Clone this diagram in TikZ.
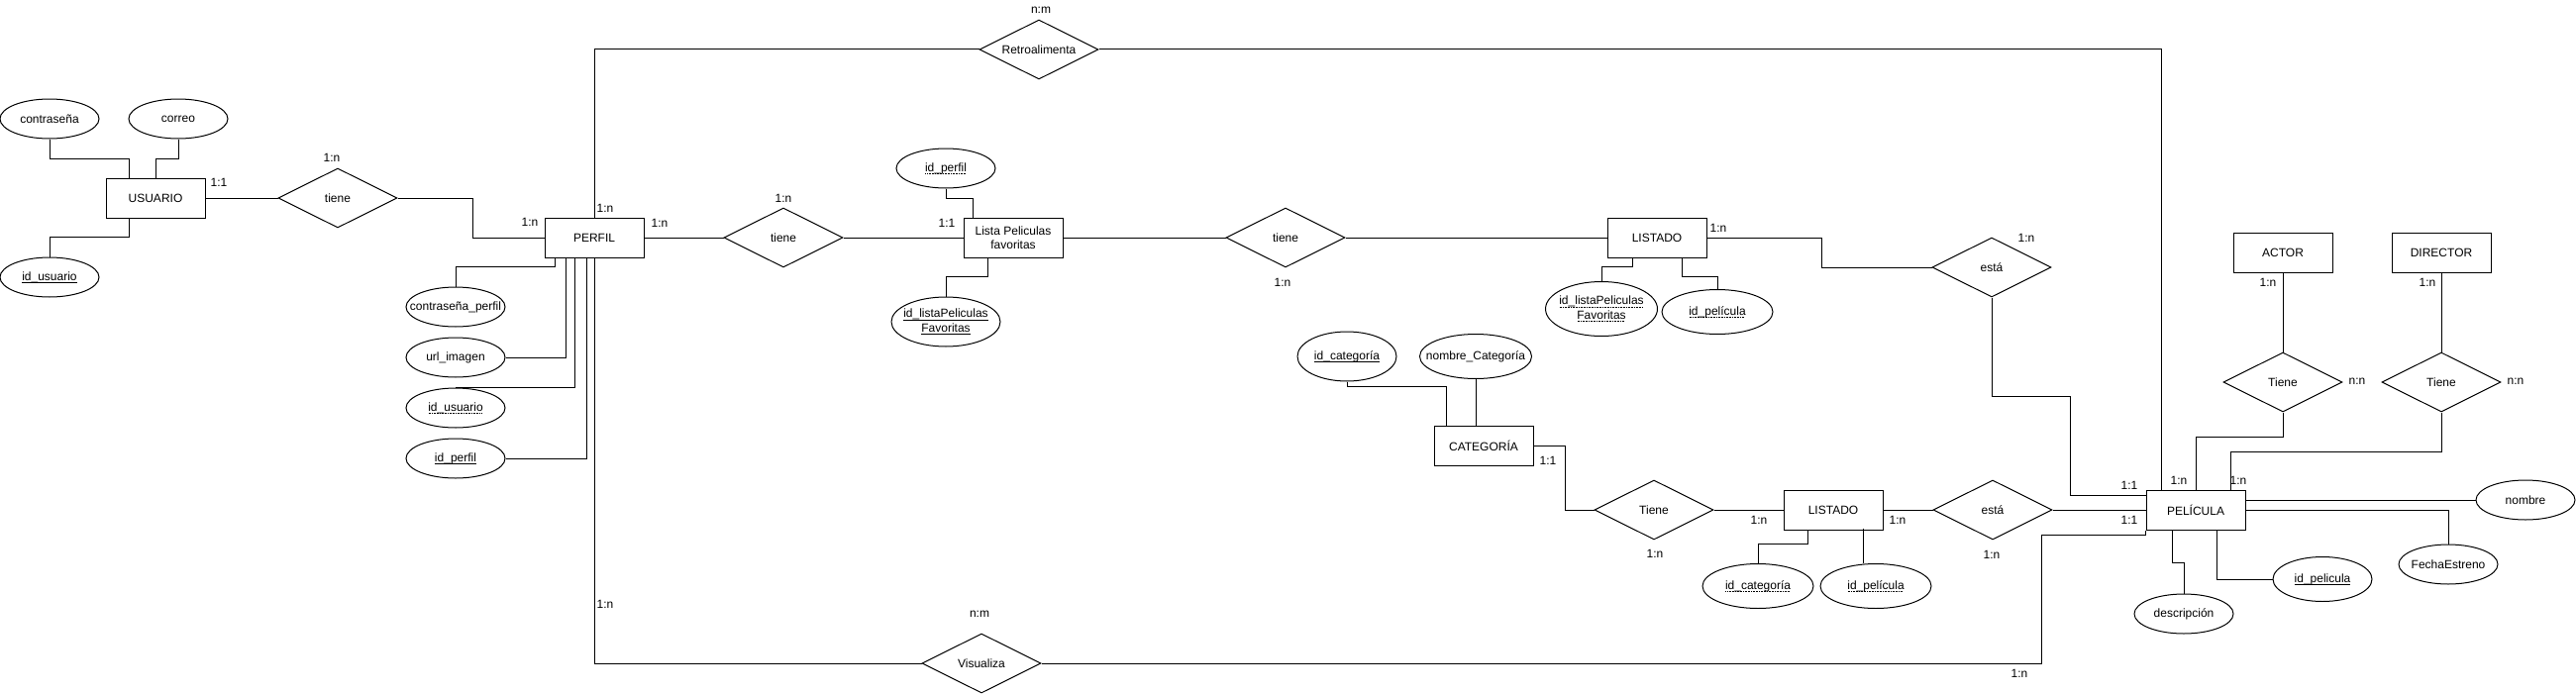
\documentclass[tikz,border=0pt]{standalone}
\usepackage{fontspec}
\setmainfont{Liberation Sans}
\usetikzlibrary{positioning, shapes.geometric}
\newsavebox\keybox
\newcommand{\pkey}[1]{\sbox\keybox{#1}\makebox[0pt][l]{\raisebox{-2.5pt}{\rule{\wd\keybox}{0.7pt}}}\usebox\keybox}
\newcommand{\fkey}[1]{\sbox\keybox{#1}\makebox[0pt][l]{\raisebox{-2.5pt}{\makebox[\wd\keybox][l]{\leaders\hbox to 1.6pt{\hss\rule{0.8pt}{0.7pt}\hss}\hfill}}}\usebox\keybox}

\begin{document}
\begin{tikzpicture}[x=1pt, y=-1pt, line width=1pt, node distance=10pt,
  every node/.style={font=\fontsize{12}{14.4}\selectfont, align=center},
  entidad/.style={draw, rectangle, minimum width=100pt, minimum height=40pt, inner sep=2pt},
  atributo/.style={draw, ellipse, minimum width=100pt, minimum height=40pt, inner xsep=-15pt, inner ysep=0pt},
  relacion/.style={draw, diamond, aspect=2, minimum width=120pt, minimum height=60pt, inner sep=0pt},
  card/.style={inner sep=0pt}]
\useasboundingbox (0,0) rectangle (2601,701);

\node[entidad] (usuario) at (157,200) {USUARIO};
\node[atributo] (contrasena) at (50,120) {contraseña};
\node[atributo] (correo) at (180,120) {correo};
\node[atributo] (idusuario) at (50,280) {\pkey{id\_usuario}};
\node[relacion, right=73pt of usuario] (tieneUP) {tiene};

\node[entidad] (perfil) at (600,240) {PERFIL};
\node[atributo] (contrasenaperfil) at (460,310) {contraseña\_perfil};
\node[atributo, below=of contrasenaperfil] (urlimagen) {url\_imagen};
\node[atributo, below=of urlimagen] (idusuarioP) {\fkey{id\_usuario}};
\node[atributo, below=of idusuarioP] (idperfil) {\pkey{id\_perfil}};
\node[relacion] (retro) at (1049,50) {Retroalimenta};
\node[relacion] (visualiza) at (991,670) {Visualiza};

\node[relacion, right=80pt of perfil] (tienePL) {tiene};
\node[entidad, right=121pt of tienePL] (lista) {Lista Peliculas\\favoritas};
\node[atributo] (idperfilL) at (955,170) {\fkey{id\_perfil}};
\node[atributo, minimum width=110pt, minimum height=50pt] (idlista) at (955,325) {\pkey{id\_listaPeliculas}\\\pkey{Favoritas}};
\node[relacion, right=164pt of lista] (tieneLL) {tiene};
\node[entidad, right=264pt of tieneLL] (listado) {LISTADO};
\node[atributo, minimum width=113pt, minimum height=55pt] (idlistaLD) at (1617,312) {\fkey{id\_listaPeliculas}\\\fkey{Favoritas}};
\node[atributo, minimum width=112pt, minimum height=45pt] (idpeliLD) at (1734,315) {\fkey{id\_película}};
\node[relacion] (estaLP) at (2011,270) {está};

\node[entidad] (categoria) at (1498,450) {CATEGORÍA};
\node[atributo, minimum height=50pt] (idcat) at (1360,360) {\pkey{id\_categoría}};
\node[atributo, minimum width=113pt, minimum height=45pt] (nombrecat) at (1490,360) {nombre\_Categoría};
\node[relacion] (tieneCL) at (1670,515) {Tiene};
\node[entidad, right=70pt of tieneCL] (listadoB) {LISTADO};
\node[atributo, minimum width=112pt, minimum height=45pt] (idcatLB) at (1775,592) {\fkey{id\_categoría}};
\node[atributo, minimum width=112pt, minimum height=45pt] (idpeliLB) at (1894,592) {\fkey{id\_película}};
\node[relacion, right=50pt of listadoB] (estaLB) {está};

\node[entidad, right=94pt of estaLB] (pelicula) {PELÍCULA};
\node[entidad] (actor) at (2305,255) {ACTOR};
\node[entidad] (director) at (2465,255) {DIRECTOR};
\node[relacion, below=80pt of actor] (tieneAP) {Tiene};
\node[relacion, below=80pt of director] (tieneDP) {Tiene};
\node[atributo] (nombre) at (2550,505) {nombre};
\node[atributo] (fecha) at (2472,570) {FechaEstreno};
\node[atributo, minimum height=45pt] (idpeli) at (2345,585) {\pkey{id\_pelicula}};
\node[atributo] (descripcion) at (2205,620) {descripción};

\node[card] (cUsuario) at (221,184) {1:1};
\node[card] (cTieneUP) at (335,159) {1:n};
\node[card] (cPerfilW) at (535,224) {1:n};
\node[card] (cPerfilN) at (611,210) {1:n};
\node[card] (cPerfilE) at (666,225) {1:n};
\node[card] (cTienePL) at (791,200) {1:n};
\node[card] (cLista) at (956,225) {1:1};
\node[card] (cRetro) at (1051,10) {n:m};
\node[card] (cTieneLL) at (1295,285) {1:n};
\node[card] (cListado) at (1735,230) {1:n};
\node[card] (cEstaLP) at (2046,240) {1:n};
\node[card] (cPeliA) at (2150,490) {1:1};
\node[card] (cPeliB) at (2150,525) {1:1};
\node[card] (cActor) at (2290,285) {1:n};
\node[card] (cDirector) at (2451,285) {1:n};
\node[card] (cTieneAP) at (2380,385) {n:n};
\node[card] (cTieneDP) at (2540,385) {n:n};
\node[card] (cPeliNA) at (2200,485) {1:n};
\node[card] (cPeliND) at (2260,485) {1:n};
\node[card] (cCategoria) at (1563,465) {1:1};
\node[card] (cTieneCL) at (1671,559) {1:n};
\node[card] (cListadoBW) at (1776,525) {1:n};
\node[card] (cListadoBE) at (1916,525) {1:n};
\node[card] (cEstaLB) at (2011,560) {1:n};
\node[card] (cPerfilS) at (611,610) {1:n};
\node[card] (cVisualiza) at (989,620) {n:m};
\node[card] (cPeliV) at (2039,680) {1:n};

\draw (contrasena.south) -- ++(0,20) -| ([xshift=-27pt]usuario.north);
\draw (correo.south) -- ++(0,20) -| (usuario.north);
\draw (idusuario.north) -- ++(0,-20) -| ([xshift=-27pt]usuario.south);
\draw (usuario.east) -- (tieneUP.west);
\draw (tieneUP.east) -- ++(76,0) |- (perfil.west);

\draw (contrasenaperfil.north) -- ++(0,-20) -| ([xshift=-40pt]perfil.south);
\draw (urlimagen.east) -| ([xshift=-29pt]perfil.south);
\draw (idusuarioP.north) -| ([xshift=-20pt]perfil.south);
\draw (idperfil.east) -| ([xshift=-8pt]perfil.south);
\draw (perfil.north) |- (retro.west);
\draw (retro.east) -| ([xshift=-35pt]pelicula.north);
\draw (perfil.south) |- (visualiza.west);
\draw (visualiza.east) -| ++(1010,-130) -| (pelicula.south west);

\draw (perfil.east) -- (tienePL.west);
\draw (tienePL.east) -- (lista.west);
\draw (idperfilL.south) -- ++(0,10) -| ([xshift=-41pt]lista.north);
\draw (idlista.north) -- ++(0,-20) -| ([xshift=-26pt]lista.south);
\draw (lista.east) -- (tieneLL.west);
\draw (tieneLL.east) -- (listado.west);
\draw (idlistaLD.north) -- ++(0,-15) -| ([xshift=-25pt]listado.south);
\draw (idpeliLD.north) -- ++(0,-13) -| ([xshift=25pt]listado.south);
\draw (listado.east) -- ++(116,0) |- (estaLP.west);
\draw (estaLP.south) |- ++(79,100) |- ([yshift=15pt]pelicula.west);

\draw (idcat.south) -- ++(0,5) -| ([xshift=-38pt]categoria.north);
\draw (nombrecat.south) -- (nombrecat.south |- categoria.north);
\draw (categoria.east) -- ++(32,0) |- (tieneCL.west);
\draw (tieneCL.east) -- (listadoB.west);
\draw (idcatLB.north) -- ++(0,-20) -| ([xshift=-26pt]listadoB.south);
\draw (idpeliLB.north) ++(-13,0) -- ++(0,-35);
\draw (listadoB.east) -- (estaLB.west);
\draw (estaLB.east) -- (pelicula.west);

\draw (actor.south) -- (tieneAP.north);
\draw (director.south) -- (tieneDP.north);
\draw (tieneAP.south) -- ++(0,25) -| (pelicula.north);
\draw (tieneDP.south) -- ++(0,40) -| ([xshift=35pt]pelicula.north);
\draw (nombre.west -| pelicula.east) -- (nombre.west);
\draw (pelicula.east) -| (fecha.north);
\draw ([xshift=21pt]pelicula.south) |- (idpeli.west);
\draw ([xshift=-24pt]pelicula.south) -- ++(0,33) -| (descripcion.north);
\end{tikzpicture}
\end{document}
